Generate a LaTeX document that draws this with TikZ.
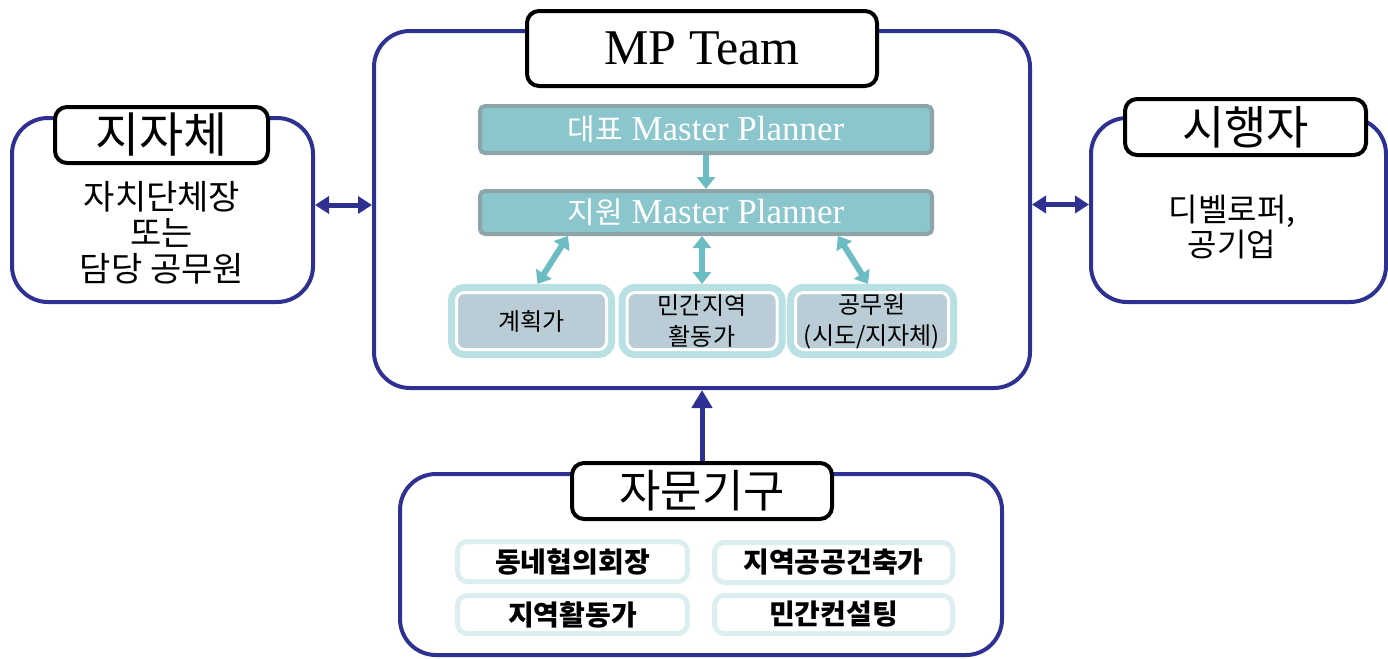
\documentclass[tikz,border=0pt]{standalone}
\usepackage{fontspec}
\usetikzlibrary{arrows.meta}
\setmainfont{Liberation Serif}
\newfontfamily\kr{Noto Sans CJK KR}

\definecolor{navy}{RGB}{46,49,145}
\definecolor{barfill}{RGB}{138,198,204}
\definecolor{barline}{RGB}{141,165,169}
\definecolor{tealarrow}{RGB}{108,189,195}
\definecolor{frameteal}{RGB}{185,225,228}
\definecolor{boxgray}{RGB}{186,205,214}
\definecolor{paleframe}{RGB}{220,238,239}

\newcommand{\barfont}{\fontsize{17.5}{20}\selectfont}
\newcommand{\krbar}[1]{{\kr\fontsize{15}{18}\selectfont #1}}

\tikzset{
  panel/.style={draw=navy,line width=2pt,rounded corners=18pt,fill=white},
  tagbox/.style={draw=black,line width=2pt,rounded corners=6pt,fill=white,inner sep=0pt},
  mpbar/.style={draw=barline,line width=2pt,rounded corners=2.5pt,fill=barfill,text=white,minimum width=226pt,inner sep=0pt,font=\barfont},
  rolebox/.style={fill=boxgray,draw=white,line width=1.5pt,rounded corners=4pt,
    preaction={draw=frameteal,line width=8.5pt},outer sep=4.25pt,
    minimum width=75pt,minimum height=28.5pt,align=center,inner sep=0pt,
    font=\kr\fontsize{12}{15.5}\selectfont},
  memberbox/.style={draw=paleframe,line width=2.5pt,rounded corners=5pt,fill=white,inner sep=0pt,
    font=\kr\bfseries\fontsize{14}{16}\selectfont},
  navyboth/.style={draw=navy,line width=2.5pt,>={Triangle[length=7pt,width=8.5pt]},<->},
  navyup/.style={draw=navy,line width=2.5pt,-{Triangle[length=9pt,width=10pt]}},
  tealone/.style={draw=tealarrow,line width=3pt,-{Triangle[length=6pt,width=9pt]}},
  tealboth/.style={draw=tealarrow,line width=3pt,>={Triangle[length=6pt,width=9pt]},<->}
}

\begin{document}
\begin{tikzpicture}[x=0.5pt,y=-0.5pt]
  \useasboundingbox (0,0) rectangle (1388,659);
  % MP team
  \node[panel,minimum width=328pt,minimum height=178.5pt] (mp) at (702,209.5) {};
  \node[tagbox,minimum width=175pt,minimum height=37.5pt,font=\fontsize{25}{30}\selectfont] (mptag) at (702,48.5) {MP Team};
  \node[mpbar,minimum height=23.5pt] (leadmp) at (706,129.5) {\krbar{대표} Master Planner};
  \node[mpbar,minimum height=21.5pt] (submp) at (706,212.5) {\krbar{지원} Master Planner};
  \node[rolebox] (planner) at (531.5,321) {계획가};
  \node[rolebox] (civic) at (702,321) {민간지역\\활동가};
  \node[rolebox,minimum width=76.5pt] (official) at (872,321) {공무원\\(시도/지자체)};
  % local government
  \node[panel,minimum width=150.5pt,minimum height=92pt] (localgov) at (162.5,210) {};
  \node[tagbox,minimum width=106.5pt,minimum height=28pt,font=\kr\fontsize{24}{28}\selectfont] (localtag) at (161.5,135) {지자체};
  \node[align=center,font=\kr\fontsize{17}{18}\selectfont] (localtext) at (162,233) {자치단체장\\또는\\담당 공무원};
  % developer
  \node[panel,minimum width=147.5pt,minimum height=92pt] (sponsor) at (1238.5,210) {};
  \node[tagbox,minimum width=120.5pt,minimum height=28pt,font=\kr\fontsize{23}{28}\selectfont] (sponsortag) at (1245.5,127) {시행자};
  \node[align=center,font=\kr\fontsize{16}{17.5}\selectfont] (sponsortext) at (1232,227.5) {디벨로퍼,\\공기업};
  % advisory body
  \node[panel,minimum width=301pt,minimum height=90.5pt] (advisory) at (701,564.5) {};
  \node[tagbox,minimum width=130pt,minimum height=28pt,font=\kr\fontsize{22.5}{27}\selectfont] (advtag) at (702,491) {자문기구};
  \node[memberbox,minimum width=115pt,minimum height=20pt] (nbhd) at (572.5,561.5) {동네협의회장};
  \node[memberbox,minimum width=119pt,minimum height=20pt] (archt) at (833.5,562.5) {지역공공건축가};
  \node[memberbox,minimum width=115pt,minimum height=19pt] (activist) at (572.5,614.5) {지역활동가};
  \node[memberbox,minimum width=119pt,minimum height=19pt] (consult) at (833.5,614.5) {민간컨설팅};
  % connectors
  \draw[navyboth] ([yshift=2.5pt]localgov.east) -- ([yshift=2.5pt]localgov.east -| mp.west);
  \draw[navyboth] ([yshift=2.5pt]mp.east) -- ([yshift=2.5pt]mp.east -| sponsor.west);
  \draw[navyup] (advtag.north) -- (mp.south);
  \draw[tealone] (leadmp.south) -- (submp.north);
  \draw[tealboth] ([xshift=-69pt]submp.south) -- ([xshift=3pt]planner.north);
  \draw[tealboth] (civic.north |- submp.south) -- (civic.north);
  \draw[tealboth] ([xshift=66pt]submp.south) -- ([xshift=-2pt]official.north);
\end{tikzpicture}
\end{document}
